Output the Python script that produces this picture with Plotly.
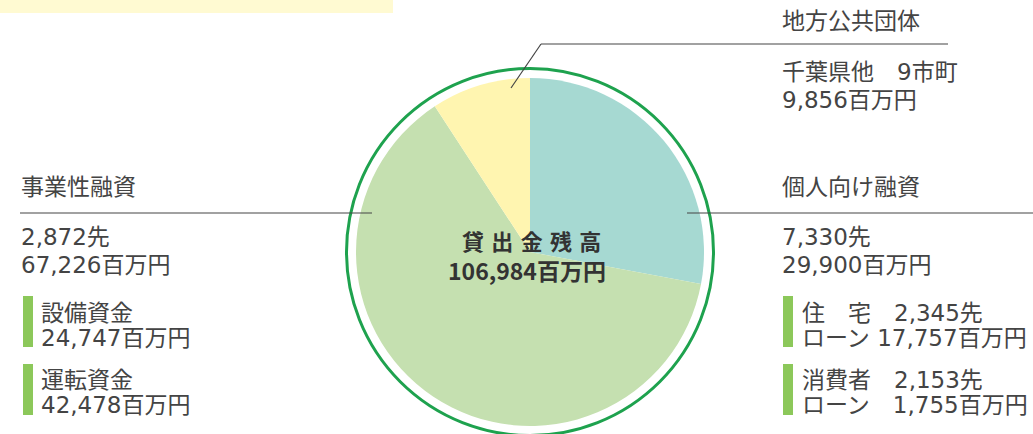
import plotly.graph_objects as go

W, H = 1033, 434

# ---- data ----
segments = ["個人向け融資", "事業性融資", "地方公共団体"]
amounts = [29900, 67226, 9856]  # 百万円
colors = ["#a6d9d2", "#c5e0b0", "#fff5b0"]
total_label = "106,984百万円"

def px(x):
    return x / W

def py(y):
    return 1 - y / H

cx, cy, r = 530, 252, 174
ring_r = 183.5

fig = go.Figure()
fig.add_trace(go.Pie(
    labels=segments,
    values=amounts,
    sort=False,
    direction="clockwise",
    rotation=0,
    marker=dict(colors=colors, line=dict(width=0)),
    textinfo="none",
    hoverinfo="skip",
    domain=dict(x=[px(cx - r), px(cx + r)], y=[py(cy + r), py(cy - r)]),
    showlegend=False,
))

shapes = []
shapes.append(dict(type="rect", xref="paper", yref="paper",
                   x0=px(0), x1=px(393), y0=py(13), y1=py(0),
                   fillcolor="#fffad2", line=dict(width=0), layer="below"))
shapes.append(dict(type="circle", xref="paper", yref="paper",
                   x0=px(cx - ring_r), x1=px(cx + ring_r),
                   y0=py(cy + ring_r), y1=py(cy - ring_r),
                   line=dict(color="#1ea24e", width=3)))
line_style = dict(color="#444444", width=1.2)
shapes.append(dict(type="line", xref="paper", yref="paper",
                   x0=px(20), x1=px(372), y0=py(213), y1=py(213), line=line_style))
shapes.append(dict(type="line", xref="paper", yref="paper",
                   x0=px(687), x1=px(1033), y0=py(213), y1=py(213), line=line_style))
shapes.append(dict(type="line", xref="paper", yref="paper",
                   x0=px(511), x1=px(541), y0=py(88), y1=py(44), line=line_style))
shapes.append(dict(type="line", xref="paper", yref="paper",
                   x0=px(541), x1=px(948), y0=py(44), y1=py(44), line=line_style))
bar_col = "#8cc85a"
for x0 in (23, 783):
    for (y0, y1) in ((296, 347), (364, 415)):
        shapes.append(dict(type="rect", xref="paper", yref="paper",
                           x0=px(x0), x1=px(x0 + 10), y0=py(y1), y1=py(y0),
                           fillcolor=bar_col, line=dict(width=0)))

FONT = "DejaVu Sans, Noto Sans CJK JP"
BFONT = "Noto Sans CJK JP"
TC = "#444444"
ann = []

def t(x, y, s, size=23, anchor="left", bold=False, color=TC, family=FONT):
    ann.append(dict(xref="paper", yref="paper", x=px(x), y=py(y),
                    text=("<b>%s</b>" % s) if bold else s,
                    showarrow=False, xanchor=anchor, yanchor="middle", align="left",
                    font=dict(family=family, size=size, color=color)))

def two(x, y, a, b, gap, size=23):
    # base font sets line gap (1.3 x base); spans carry the visible size
    sp = '<span style="font-size:%gpx">%s</span>'
    t(x, y, (sp % (size, a)) + "<br>" + (sp % (size, b)), size=gap / 1.3)

# left block
t(19, 187, "事業性融資")
two(19, 251, "2,872先", "67,226百万円", 28)
two(39, 325.5, "設備資金", "24,747百万円", 25)
two(39, 392.5, "運転資金", "42,478百万円", 25)

# right block
t(780, 187, "個人向け融資")
two(780, 251, "7,330先", "29,900百万円", 28)
two(800, 325.5, "住　宅　2,345先", "ローン 17,757百万円", 25)
two(800, 392.5, "消費者　2,153先", "ローン　1,755百万円", 25)

# top block
t(780, 21, "地方公共団体")
two(780, 86, "千葉県他　9市町", "9,856百万円", 28)

# center
t(531, 240, "貸\u2004出\u2004金\u2004残\u2004高", size=22, anchor="center", bold=True,
  color="#333333", family=BFONT)
t(527, 270, total_label, size=23, anchor="center", bold=True, color="#333333", family=BFONT)

fig.update_layout(
    width=W, height=H,
    margin=dict(l=0, r=0, t=0, b=0),
    paper_bgcolor="white", plot_bgcolor="white",
    shapes=shapes, annotations=ann,
    showlegend=False,
)

fig.write_html("out.html", config={"displayModeBar": False},
               post_script="document.body.style.margin='0';document.body.style.padding='0';document.body.style.overflow='hidden';")
